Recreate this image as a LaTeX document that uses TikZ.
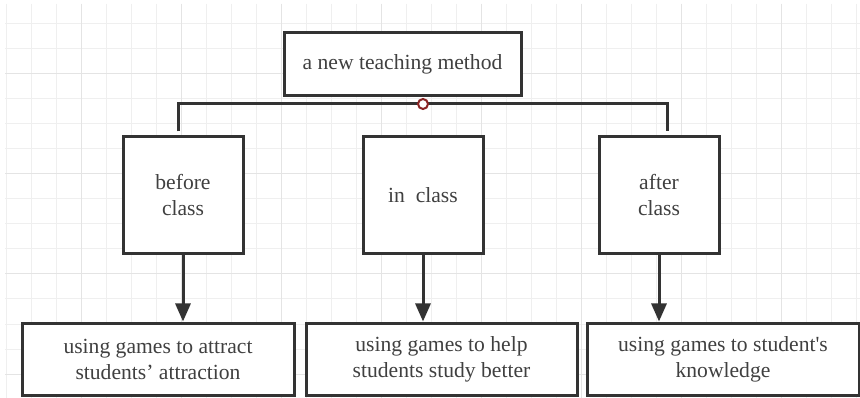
\documentclass[tikz,border=0pt]{standalone}
\usepackage{fontspec}
\setmainfont{Liberation Serif}[Ligatures=TeXOff]
\usetikzlibrary{arrows.meta}
\definecolor{ink}{HTML}{333333}
\definecolor{txt}{HTML}{404040}
\definecolor{gridminor}{HTML}{EFEFEF}
\definecolor{gridmajor}{HTML}{E4E4E4}
\definecolor{dotred}{HTML}{8B2424}
\begin{document}
\begin{tikzpicture}[x=1pt,y=-1pt,
  box/.style={draw=ink,line width=3pt,fill=white,text=txt,align=center,inner sep=0pt,
     font=\fontsize{21.6}{26}\selectfont},
  topbox/.style={box,minimum width=237pt,minimum height=63pt},
  midbox/.style={box,minimum width=120pt,minimum height=117pt},
  lowbox/.style={box,minimum width=272pt,minimum height=72pt},
  conn/.style={draw=ink,line width=3pt},
  arr/.style={conn,-{Triangle[width=15pt,length=18pt]}},
  gline/.style={draw=gridminor,line width=1pt},
  gmajor/.style={draw=gridmajor,line width=1pt}]
\useasboundingbox (0,0) rectangle (860,398);
\fill[white] (0,0) rectangle (860,398);
% grid
\foreach \x in {6,31,...,856} \draw[gline] (\x,4) -- (\x,398);
\foreach \y in {24,49,...,374} \draw[gline] (5,\y) -- (860,\y);
\foreach \x in {81,181,...,781} \draw[gmajor] (\x,4) -- (\x,398);
\foreach \y in {74,174,274,374} \draw[gmajor] (5,\y) -- (860,\y);
% nodes
\node[topbox] (top) at (402.5,64.5) {a new teaching method};
\node[midbox] (before) at (183,195.5) {before\\class};
\node[midbox] (in) at (423,195.5) {in\ \ class};
\node[midbox] (after) at (659,195.5) {after\\class};
\node[lowbox] (b1) at (158,359) {using games to attract\\students’ attraction};
\node[lowbox,minimum width=271pt] (b2) at (441.5,359) {using games to help\\students study better};
\node[lowbox] (b3) at (723,359) {using games to student's\\knowledge};
% bus
\coordinate (bus) at (423,104);
\draw[conn] ([xshift=-5pt,yshift=4pt]before.north) |- (bus) -| ([xshift=8pt,yshift=4pt]after.north);
\node[circle,draw=dotred,fill=white,line width=2pt,minimum size=10pt,inner sep=0pt] (dot) at (bus) {};
% arrows
\draw[arr] (before.south) -- (before.south |- b1.north);
\draw[arr] (in.south) -- (in.south |- b2.north);
\draw[arr] (after.south) -- (after.south |- b3.north);
\end{tikzpicture}
\end{document}
